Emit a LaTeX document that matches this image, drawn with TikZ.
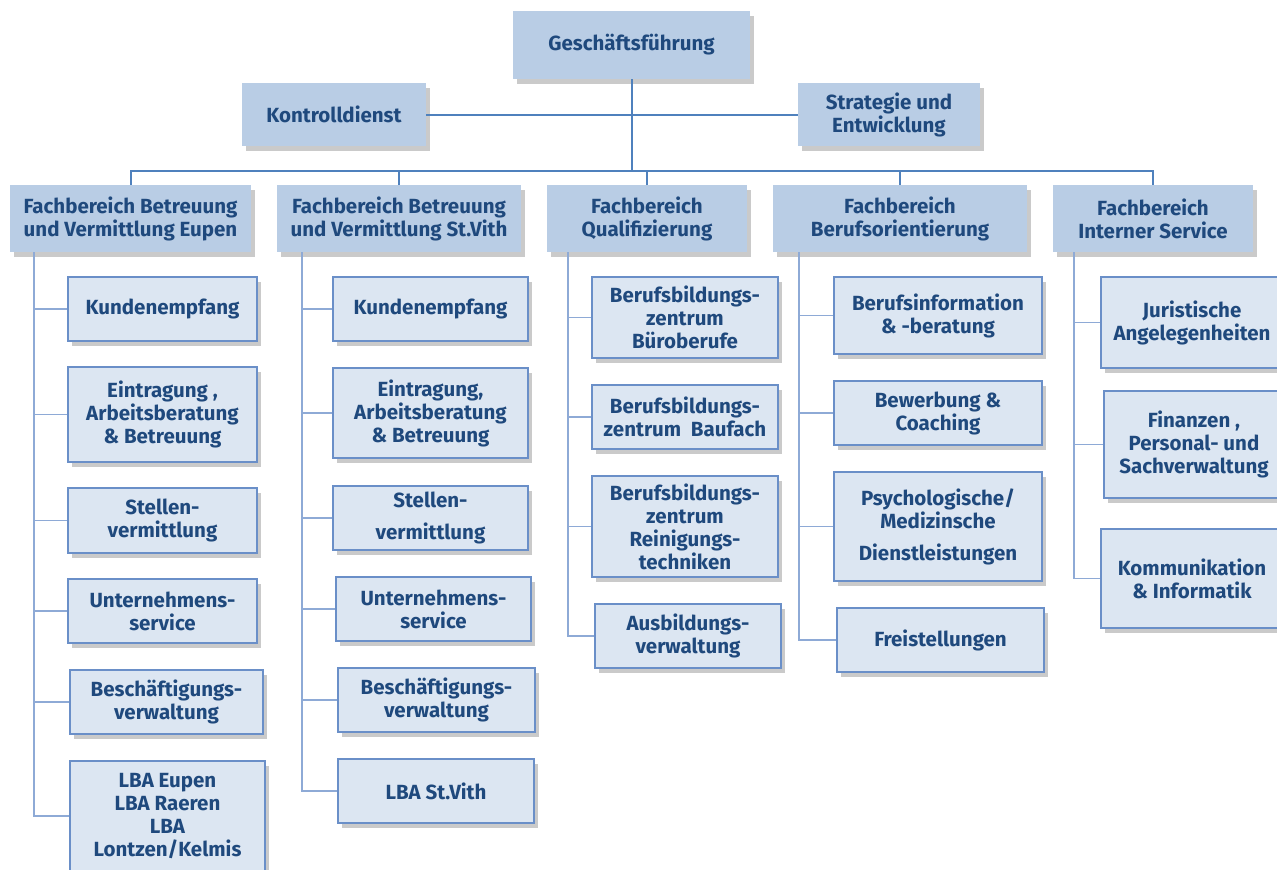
\documentclass[tikz,border=0pt]{standalone}
\usepackage{fontspec}
\setmainfont{Fira Sans}
\usetikzlibrary{shadows,calc}
\definecolor{txt}{HTML}{1F497D}
\definecolor{topfill}{HTML}{B9CDE5}
\definecolor{subfill}{HTML}{DCE6F2}
\definecolor{subline}{HTML}{6A8FC8}
\definecolor{mainline}{HTML}{4F81BD}
\definecolor{conline}{HTML}{8EAAD6}
\tikzset{
  base/.style={rectangle, align=center, text=txt, inner sep=2pt,
    font=\fontsize{20.5}{23}\selectfont\bfseries,
    drop shadow={opacity=0.35, shadow xshift=4pt, shadow yshift=-5pt, fill=black!60}},
  topbox/.style={base, fill=topfill, draw=none},
  subbox/.style={base, fill=subfill, draw=subline, line width=1.2pt},
  mainconn/.style={draw=mainline, line width=2pt},
  subconn/.style={draw=conline, line width=1.8pt},
  sz/.style 2 args={minimum width=#1pt, minimum height=#2pt},
}
\begin{document}
\begin{tikzpicture}[x=1pt,y=-1pt]
\useasboundingbox (0,0) rectangle (1277,870);
% top level
\node[topbox, sz={237}{68}] (gf) at (631.5,45) {Geschäftsführung};
\node[topbox, sz={184}{63}] (kd) at (334,114.5) {Kontrolldienst};
\node[topbox, sz={182}{63}] (se) at (889,114.5) {Strategie und\\Entwicklung};
\coordinate (bus) at (631.5,171);
\draw[mainconn] (kd.east) -- (se.west);
\draw[mainconn] (gf.south) -- (bus);
% level 1
\node[topbox, sz={241}{67}] (fe) at (130.5,218.5) {Fachbereich Betreuung\\und Vermittlung Eupen};
\node[topbox, sz={244}{67}] (fs) at (399,218.5) {Fachbereich Betreuung\\und Vermittlung St.Vith};
\node[topbox, sz={200}{67}] (fq) at (647,218.5) {Fachbereich\\Qualifizierung};
\node[topbox, sz={254}{67}] (fb) at (900,218.5) {Fachbereich\\Berufsorientierung};
\node[topbox, sz={200}{67}] (fi) at (1153,218.5) {Fachbereich\\Interner Service};
\foreach \n in {fe,fs,fq,fb,fi} {\draw[mainconn] (\n.north) |- (bus);}
% Eupen
\node[subbox, sz={189}{64}] (e1) at (162.5,309) {Kundenempfang};
\node[subbox, sz={189}{95}] (e2) at (162.5,414.5) {Eintragung ,\\Arbeitsberatung\\\& Betreuung};
\node[subbox, sz={189}{65}] (e3) at (162.5,520.5) {Stellen-\\vermittlung};
\node[subbox, sz={189}{64}] (e4) at (162.5,611) {Unternehmens-\\service};
\node[subbox, sz={193}{64}] (e5) at (166.5,702) {Beschäftigungs-\\verwaltung};
\node[subbox, sz={195}{110}] (e6) at (167.5,816) {LBA Eupen\\LBA Raeren\\LBA\\Lontzen/Kelmis};
\foreach \n in {e1,e2,e3,e4,e5,e6} {\draw[subconn] ($(fe.south west)+(24,0)$) |- (\n.west);}
% St.Vith
\node[subbox, sz={195}{64}] (s1) at (430.5,309) {Kundenempfang};
\node[subbox, sz={195}{90}] (s2) at (430.5,413) {Eintragung,\\Arbeitsberatung\\\& Betreuung};
\node[subbox, sz={195}{64}] (s3) at (430.5,518) {Stellen-\\[9pt]vermittlung};
\node[subbox, sz={195}{64}] (s4) at (433.5,609) {Unternehmens-\\service};
\node[subbox, sz={197}{64}] (s5) at (436.5,700) {Beschäftigungs-\\verwaltung};
\node[subbox, sz={196}{64}] (s6) at (436,791) {LBA St.Vith};
\foreach \n in {s1,s2,s3,s4,s5,s6} {\draw[subconn] ($(fs.south west)+(25,0)$) |- (\n.west);}
% Qualifizierung
\node[subbox, sz={186}{81}] (q1) at (685,317.5) {Berufsbildungs-\\zentrum\\Büroberufe};
\node[subbox, sz={186}{64}] (q2) at (685,417) {Berufsbildungs-\\zentrum\ \ Baufach};
\node[subbox, sz={186}{101}] (q3) at (685,526.5) {Berufsbildungs-\\zentrum\\Reinigungs-\\techniken};
\node[subbox, sz={186}{64}] (q4) at (688,636) {Ausbildungs-\\verwaltung};
\foreach \n in {q1,q2,q3,q4} {\draw[subconn] ($(fq.south west)+(21,0)$) |- (\n.west);}
% Berufsorientierung
\node[subbox, sz={208}{77}] (b1) at (938,315.5) {Berufsinformation\\\& -beratung};
\node[subbox, sz={208}{64}] (b2) at (938,413) {Bewerbung \&\\Coaching};
\node[subbox, sz={208}{109}] (b3) at (938,526.5) {Psychologische/\\Medizinsche\\[9pt]Dienstleistungen};
\node[subbox, sz={207}{64}] (b4) at (940.5,640) {Freistellungen};
\foreach \n in {b1,b2,b3,b4} {\draw[subconn] ($(fb.south west)+(26,0)$) |- (\n.west);}
% Interner Service
\node[subbox, sz={182}{91}] (i1) at (1192,322.5) {Juristische\\Angelegenheiten};
\node[subbox, sz={180}{107}] (i2) at (1194,444.5) {Finanzen ,\\Personal- und\\Sachverwaltung};
\node[subbox, sz={182}{99}] (i3) at (1192,578.5) {Kommunikation\\\& Informatik};
\foreach \n in {i1,i2,i3} {\draw[subconn] ($(fi.south west)+(21,0)$) |- (\n.west);}
\end{tikzpicture}
\end{document}
